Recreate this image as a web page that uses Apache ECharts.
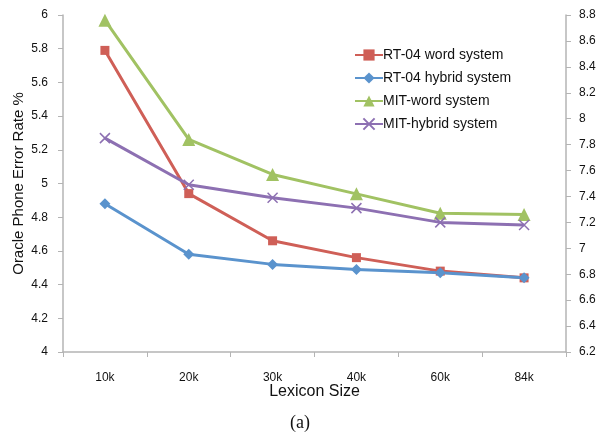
<!DOCTYPE html>
<html>
<head>
<meta charset="utf-8">
<script src="https://cdn.jsdelivr.net/npm/echarts@6/dist/echarts.min.js"></script>
<style>
  html, body { margin: 0; padding: 0; background: #fff; }
  #chart { width: 600px; height: 434px; }
</style>
</head>
<body>
<div id="chart"></div>
<script>
// Lexicon sizes on the category axis
const categories = ['10k', '20k', '30k', '40k', '60k', '84k'];

// RT-04 series (left axis)
const rt04Word   = [5.79, 4.94, 4.66, 4.56, 4.48, 4.44];
const rt04Hybrid = [4.88, 4.58, 4.52, 4.49, 4.47, 4.44];

// MIT series (right axis)
const mitWord    = [8.76, 7.84, 7.57, 7.42, 7.27, 7.26];
const mitHybrid  = [7.85, 7.49, 7.39, 7.31, 7.20, 7.18];

const seriesNames = ['RT-04 word system', 'RT-04 hybrid system', 'MIT-word system', 'MIT-hybrid system'];
const axisTitleY = 'Oracle Phone Error Rate %';
const axisTitleX = 'Lexicon Size';
const caption = '(a)';

const FONT = '"Liberation Sans", Arial, sans-serif';
const axisGray = '#b4b4b4';
const crossPath = 'path://M0,0L10,10M10,0L0,10';

const chart = echarts.init(document.getElementById('chart'), null, { renderer: 'canvas' });

function lineSeries(name, data, color, symbol, size, yIndex) {
  const isCross = symbol === crossPath;
  return {
    name, type: 'line', data, yAxisIndex: yIndex,
    symbol, symbolSize: size,
    lineStyle: { color, width: 3 },
    itemStyle: { color, borderColor: color, borderWidth: isCross ? 1.5 : 0 },
    emphasis: { disabled: true }
  };
}

chart.setOption({
  animation: false,
  backgroundColor: '#fff',
  grid: { left: 63, right: 34, top: 15, bottom: 82, containLabel: false, outerBoundsMode: 'none' },
  legend: {
    orient: 'vertical',
    left: 349, top: 43,
    itemGap: 9, itemWidth: 28, itemHeight: 14,
    textStyle: { fontFamily: FONT, fontSize: 14, color: '#111', padding: [0, 0, 0, -5] },
    data: seriesNames.map(n => ({ name: n }))
  },
  xAxis: {
    type: 'category',
    data: categories,
    boundaryGap: true,
    axisLine: { lineStyle: { color: axisGray, width: 1.5 } },
    axisTick: { show: true, length: 5, lineStyle: { color: axisGray } },
    axisLabel: { fontFamily: FONT, fontSize: 12, color: '#111', margin: 20 },
    name: axisTitleX,
    nameLocation: 'middle',
    nameGap: 32,
    nameMoveOverlap: false,
    nameTextStyle: { fontFamily: FONT, fontSize: 16, color: '#111' }
  },
  yAxis: [
    {
      type: 'value', min: 4, max: 6, interval: 0.2,
      position: 'left',
      splitLine: { show: false },
      axisLine: { show: true, lineStyle: { color: axisGray, width: 1.5 } },
      axisTick: { show: true, length: 5, lineStyle: { color: axisGray } },
      axisLabel: { fontFamily: FONT, fontSize: 12, color: '#111', margin: 15 },
      name: axisTitleY,
      nameLocation: 'middle',
      nameGap: 37,
      nameMoveOverlap: false,
      nameRotate: 90,
      nameTextStyle: { fontFamily: FONT, fontSize: 15, color: '#111' }
    },
    {
      type: 'value', min: 6.2, max: 8.8, interval: 0.2,
      position: 'right',
      splitLine: { show: false },
      axisLine: { show: true, lineStyle: { color: axisGray, width: 1.5 } },
      axisTick: { show: true, length: 5, lineStyle: { color: axisGray } },
      axisLabel: { fontFamily: FONT, fontSize: 12, color: '#111', margin: 13 }
    }
  ],
  graphic: [{
    type: 'text',
    left: 'center', top: 414,
    style: { text: caption, font: '18px "Liberation Serif", "Times New Roman", serif', fill: '#111' }
  }],
  series: [
    lineSeries(seriesNames[0], rt04Word, '#cf5f57', 'rect', 9, 0),
    lineSeries(seriesNames[1], rt04Hybrid, '#5a93cd', 'diamond', 11, 0),
    lineSeries(seriesNames[2], mitWord, '#a1c263', 'triangle', 13, 1),
    lineSeries(seriesNames[3], mitHybrid, '#8d70b2', crossPath, 10, 1)
  ]
});
</script>
</body>
</html>
